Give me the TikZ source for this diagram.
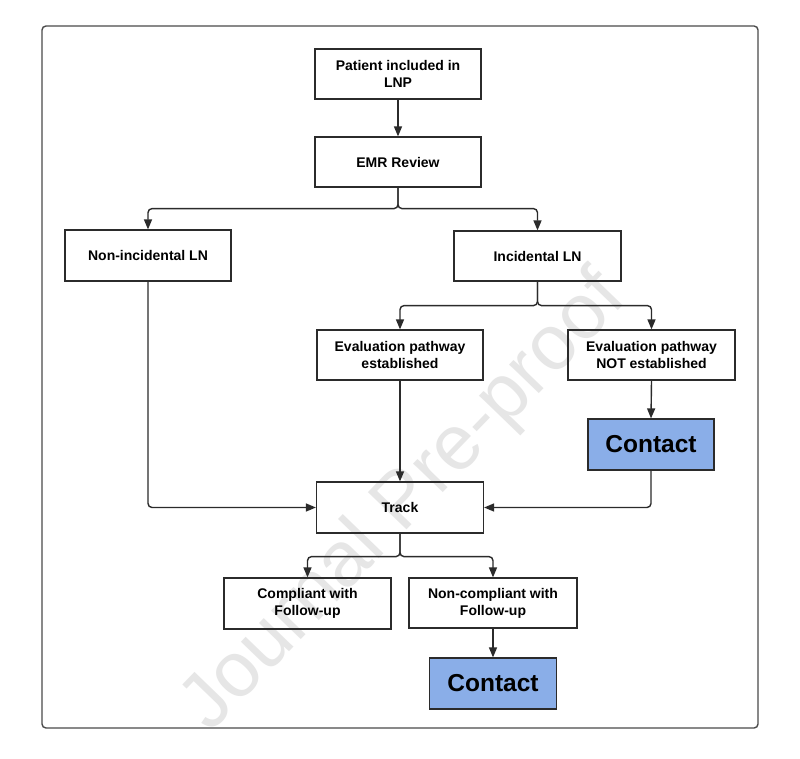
\documentclass[tikz,border=0pt]{standalone}
\usepackage{fontspec}
\setmainfont{Liberation Sans}
\usetikzlibrary{arrows.meta,calc}
\definecolor{contactblue}{HTML}{8AAEE8}
\definecolor{linegray}{HTML}{2B2B2B}
\definecolor{wmgray}{HTML}{E6E6E6}
\tikzset{
  box/.style={draw=linegray,line width=1.2pt,align=center,inner sep=0pt,
    font=\fontsize{14}{17}\selectfont\bfseries},
  contactbox/.style={draw=linegray,line width=1.2pt,fill=contactblue,align=center,inner sep=0pt,
    font=\fontsize{24.5}{28}\selectfont\bfseries},
  arr/.style={draw=linegray,line width=1.4pt,rounded corners=4pt,
    -{Triangle[length=10pt,width=8pt]}},
}
\begin{document}
\begin{tikzpicture}[x=1pt,y=-1pt]
\useasboundingbox (0,0) rectangle (800,759);
\fill[white] (0,0) rectangle (800,759);
% watermark
\node[text=wmgray,rotate=46,font=\fontsize{78}{80}\selectfont] (wm) at (405,503) {Journal Pre-proof};
% frame
\draw[draw=linegray!85,line width=1.4pt,rounded corners=4pt] (42,26) rectangle (758,728);
% nodes
\node[box,minimum width=166pt,minimum height=50pt] (pat) at (398,74) {Patient included in\\LNP};
\node[box,minimum width=166pt,minimum height=50pt] (emr) at (398,162) {EMR Review};
\node[box,minimum width=166pt,minimum height=51pt] (non) at (148,255.5) {Non-incidental LN};
\node[box,minimum width=167pt,minimum height=50pt] (inc) at (537.5,256) {Incidental LN};
\node[box,minimum width=166pt,minimum height=50pt] (est) at (400,355) {Evaluation pathway\\established};
\node[box,minimum width=167pt,minimum height=50pt] (nest) at (651.5,355) {Evaluation pathway\\NOT established};
\node[contactbox,minimum width=126pt,minimum height=51pt] (c1) at (651,444.5) {Contact};
\node[box,minimum width=167pt,minimum height=51pt] (track) at (400,507.5) {Track};
\node[box,minimum width=167pt,minimum height=51pt] (comp) at (307.5,603.5) {Compliant with\\Follow-up};
\node[box,minimum width=168pt,minimum height=50pt] (ncomp) at (493,603) {Non-compliant with\\Follow-up};
\node[contactbox,minimum width=127pt,minimum height=51pt] (c2) at (493,683.5) {Contact};
% connectors
\draw[arr] (pat.south) -- (emr.north);
\draw[arr] (emr.south) -- ++(0,21) -| (non.north);
\draw[arr] (emr.south) -- ++(0,21) -| (inc.north);
\draw[arr] (inc.south) -- ++(0,24) -| (est.north);
\draw[arr] (inc.south) -- ++(0,24) -| (nest.north);
\draw[arr] (nest.south) -- (c1.north);
\draw[arr] (non.south) |- (track.west);
\draw[arr] (est.south) -- (track.north);
\draw[arr] (c1.south) |- (track.east);
\draw[arr] (track.south) -- ++(0,23) -| (comp.north);
\draw[arr] (track.south) -- ++(0,23) -| (ncomp.north);
\draw[arr] (ncomp.south) -- (c2.north);
\end{tikzpicture}
\end{document}
